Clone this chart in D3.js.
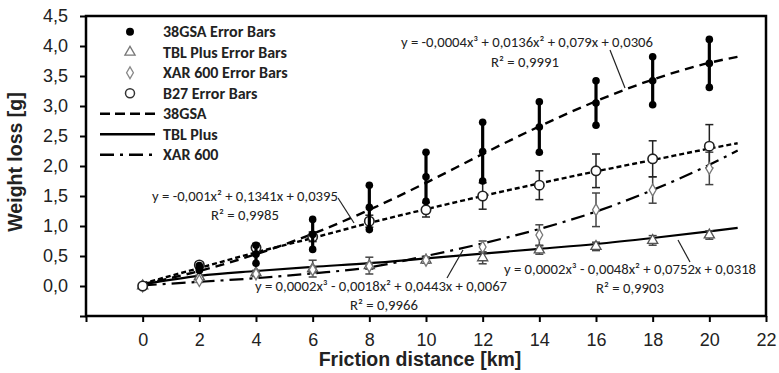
<!DOCTYPE html>
<html>
<head>
<meta charset="utf-8">
<script src="https://cdn.jsdelivr.net/npm/d3@7"></script>
<style>
  body { margin: 0; background: #fff; }
  svg { display: block; }
</style>
</head>
<body>
<script>
const w = 779;
const h = 373;

// measured data (friction distance in km, weight loss in g)
const distance = [0, 2, 4, 6, 8, 10, 12, 14, 16, 18, 20];
const gsaMean = [0, 0.30, 0.53, 0.86, 1.31, 1.82, 2.24, 2.65, 3.05, 3.42, 3.71];
const gsaErr  = [0, 0.04, 0.15, 0.25, 0.37, 0.41, 0.49, 0.42, 0.37, 0.40, 0.40];
const tblMean = [0, 0.15, 0.22, 0.29, 0.34, 0.43, 0.47, 0.60, 0.66, 0.76, 0.85];
const tblErr  = [0, 0.03, 0.04, 0.14, 0.14, 0.05, 0.10, 0.07, 0.07, 0.08, 0.07];
const xarMean = [0, 0.09, 0.20, 0.27, 0.33, 0.43, 0.65, 0.85, 1.27, 1.60, 1.96];
const xarErr  = [0, 0.03, 0.04, 0.05, 0.05, 0.05, 0.10, 0.17, 0.28, 0.22, 0.27];
const b27Mean = [0, 0.35, 0.64, 0.82, 1.08, 1.27, 1.50, 1.68, 1.92, 2.12, 2.33];
const b27Err  = [0, 0.05, 0.07, 0.08, 0.10, 0.12, 0.22, 0.24, 0.28, 0.30, 0.36];

// trend lines
const fitX   = [0, 2, 4, 6, 8, 10, 12, 14, 16, 18, 20, 21];
const gsaFit = [0.03, 0.25, 0.53, 0.87, 1.27, 1.72, 2.20, 2.66, 3.08, 3.44, 3.72, 3.82];
const b27Fit = [0.04, 0.30, 0.56, 0.80, 1.05, 1.28, 1.50, 1.71, 1.91, 2.10, 2.29, 2.38];
const tblFit = [0.03, 0.17, 0.25, 0.32, 0.38, 0.46, 0.54, 0.62, 0.70, 0.80, 0.91, 0.97];
const xarFit = [0.01, 0.07, 0.13, 0.21, 0.31, 0.50, 0.71, 0.95, 1.24, 1.60, 2.02, 2.26];

const xTicks = [-2, 0, 2, 4, 6, 8, 10, 12, 14, 16, 18, 20, 22];
const yTicks = [-0.5, 0, 0.5, 1, 1.5, 2, 2.5, 3, 3.5, 4, 4.5];

const legendMarkers = ["38GSA Error Bars", "TBL Plus Error Bars", "XAR 600 Error Bars", "B27 Error Bars"];
const legendLines = ["38GSA", "TBL Plus", "XAR 600"];

const equations = [
  {l1: "y = -0,0004x³ + 0,0136x² + 0,079x + 0,0306", l2: "R² = 0,9991"},
  {l1: "y = -0,001x² + 0,1341x + 0,0395", l2: "R² = 0,9985"},
  {l1: "y = 0,0002x³ - 0,0018x² + 0,0443x + 0,0067", l2: "R² = 0,9966"},
  {l1: "y = 0,0002x³ - 0,0048x² + 0,0752x + 0,0318", l2: "R² = 0,9903"}
];

const axisFont = "'Liberation Sans', Arial, sans-serif";
const calFont = "Carlito, Calibri, Lato, 'Open Sans', sans-serif";

const x = d3.scaleLinear().domain([-2, 22]).range([86, 766]);
const y = d3.scaleLinear().domain([-0.5, 4.5]).range([316, 16]);

const svg = d3.select("body").append("svg")
  .attr("width", w)
  .attr("height", h);

const fmt = v => d3.format(".1f")(v).replace(".", ",");

// axes
const xAxis = svg.append("g")
  .attr("transform", "translate(0," + y(-0.5) + ")")
  .call(d3.axisBottom(x).tickValues(xTicks).tickSize(6).tickPadding(11)
    .tickFormat(d => d < 0 ? "" : d));
const yAxis = svg.append("g")
  .attr("transform", "translate(" + x(-2) + ",0)")
  .call(d3.axisLeft(y).tickValues(yTicks).tickSize(6).tickPadding(12)
    .tickFormat(d => d < 0 ? "" : fmt(d)));

[xAxis, yAxis].forEach(a => {
  a.select(".domain").remove();
  a.selectAll(".tick line").attr("stroke", "#000").attr("stroke-width", 2);
  a.selectAll("text")
    .attr("fill", "#222")
    .style("font-family", axisFont)
    .style("font-size", "18px");
});

// plot frame
svg.append("rect")
  .attr("x", x(-2)).attr("y", y(4.5))
  .attr("width", x(22) - x(-2)).attr("height", y(-0.5) - y(4.5))
  .attr("fill", "none").attr("stroke", "#000").attr("stroke-width", 2.5);

svg.append("text")
  .attr("x", 420).attr("y", 366)
  .attr("text-anchor", "middle")
  .style("font-family", axisFont).style("font-size", "19.5px").style("font-weight", "bold")
  .attr("fill", "#222")
  .text("Friction distance [km]");

svg.append("text")
  .attr("transform", "translate(22,162) rotate(-90)")
  .attr("text-anchor", "middle")
  .style("font-family", axisFont).style("font-size", "19.5px").style("font-weight", "bold")
  .attr("fill", "#222")
  .text("Weight loss [g]");

// trend lines
const line = d3.line()
  .x(d => x(d[0]))
  .y(d => y(d[1]))
  .curve(d3.curveMonotoneX);

const fits = [
  {v: b27Fit, dash: "5,3", width: 2.4},
  {v: tblFit, dash: null, width: 2.2},
  {v: xarFit, dash: "14,6,3,6", width: 2.2},
  {v: gsaFit, dash: "9,6", width: 2.4}
];
fits.forEach(f => {
  svg.append("path")
    .datum(fitX.map((d, i) => [d, f.v[i]]))
    .attr("d", line)
    .attr("fill", "none")
    .attr("stroke", "#000")
    .attr("stroke-width", f.width)
    .attr("stroke-dasharray", f.dash);
});

// error bars with caps
function errorBars(mean, err, color, capW, sw) {
  const g = svg.append("g");
  distance.forEach((d, i) => {
    if (err[i] <= 0) return;
    const cx = x(d);
    g.append("line")
      .attr("x1", cx).attr("x2", cx)
      .attr("y1", y(mean[i] - err[i])).attr("y2", y(mean[i] + err[i]))
      .attr("stroke", color).attr("stroke-width", sw);
    [mean[i] - err[i], mean[i] + err[i]].forEach(v => {
      g.append("line")
        .attr("x1", cx - capW).attr("x2", cx + capW)
        .attr("y1", y(v)).attr("y2", y(v))
        .attr("stroke", color).attr("stroke-width", sw);
    });
  });
}

errorBars(tblMean, tblErr, "#444", 4, 1.5);
errorBars(xarMean, xarErr, "#444", 4, 1.5);
errorBars(b27Mean, b27Err, "#222", 4, 1.5);

const triangle = d3.symbol().type(d3.symbolTriangle).size(45);
const diamond = d3.symbol().type(d3.symbolDiamond).size(40);

function markers(mean, sym, stroke) {
  svg.append("g").selectAll("path")
    .data(distance)
    .enter()
    .append("path")
    .attr("transform", (d, i) => "translate(" + x(d) + "," + y(mean[i]) + ")")
    .attr("d", sym)
    .attr("fill", "#fff")
    .attr("stroke", stroke)
    .attr("stroke-width", 1.3);
}
markers(tblMean, triangle, "#555");
markers(xarMean, diamond, "#777");

svg.append("g").selectAll("circle")
  .data(distance)
  .enter()
  .append("circle")
  .attr("cx", d => x(d))
  .attr("cy", (d, i) => y(b27Mean[i]))
  .attr("r", 4.7)
  .attr("fill", "#fff")
  .attr("stroke", "#222")
  .attr("stroke-width", 1.6);

// 38GSA thick bars with round ends
const gsaG = svg.append("g");
distance.forEach((d, i) => {
  if (d === 0) return;
  const cx = x(d);
  gsaG.append("line")
    .attr("x1", cx).attr("x2", cx)
    .attr("y1", y(gsaMean[i] - gsaErr[i])).attr("y2", y(gsaMean[i] + gsaErr[i]))
    .attr("stroke", "#000").attr("stroke-width", 3.2);
  [gsaMean[i] - gsaErr[i], gsaMean[i], gsaMean[i] + gsaErr[i]].forEach(v => {
    gsaG.append("circle")
      .attr("cx", cx).attr("cy", y(v)).attr("r", 3.8)
      .attr("fill", "#000");
  });
});

// legend
const legend = svg.append("g");
const rowY = k => 31.7 + 20.5 * k;
legend.append("circle").attr("cx", 130).attr("cy", rowY(0)).attr("r", 4).attr("fill", "#000");
legend.append("path").attr("transform", "translate(130," + rowY(1) + ")").attr("d", triangle)
  .attr("fill", "#fff").attr("stroke", "#777").attr("stroke-width", 1.3);
legend.append("path").attr("transform", "translate(130," + rowY(2) + ")").attr("d", diamond)
  .attr("fill", "#fff").attr("stroke", "#888").attr("stroke-width", 1.3);
legend.append("circle").attr("cx", 130).attr("cy", rowY(3)).attr("r", 4.5)
  .attr("fill", "#fff").attr("stroke", "#333").attr("stroke-width", 1.5);

const legDash = ["10,5", null, "14,6,3,6"];
legendLines.forEach((t, k) => {
  legend.append("line")
    .attr("x1", 100).attr("x2", 155)
    .attr("y1", rowY(4 + k)).attr("y2", rowY(4 + k))
    .attr("stroke", "#000").attr("stroke-width", 2.4)
    .attr("stroke-dasharray", legDash[k]);
});

legendMarkers.concat(legendLines).forEach((t, k) => {
  legend.append("text")
    .attr("x", 163).attr("y", rowY(k))
    .attr("dy", "0.35em")
    .style("font-family", calFont).style("font-size", "16px").style("font-weight", "bold")
    .attr("fill", "#222")
    .text(t);
});

// equations with leader lines
const eqPos = [[527, 47, 525, 67], [245, 201, 245, 220], [381, 291, 384, 310], [630, 274, 630, 293]];
equations.forEach((e, i) => {
  const p = eqPos[i];
  svg.append("text").attr("x", p[0]).attr("y", p[1]).attr("text-anchor", "middle")
    .style("font-family", calFont).style("font-size", "14.7px").attr("fill", "#222").text(e.l1);
  svg.append("text").attr("x", p[2]).attr("y", p[3]).attr("text-anchor", "middle")
    .style("font-family", calFont).style("font-size", "14.7px").attr("fill", "#222").text(e.l2);
});

const leaders = [[610, 50, 625, 88], [338, 198, 354, 223], [447, 278, 463, 250], [690, 262, 678, 240]];
leaders.forEach(l => {
  svg.append("line")
    .attr("x1", l[0]).attr("y1", l[1]).attr("x2", l[2]).attr("y2", l[3])
    .attr("stroke", "#222").attr("stroke-width", 1.2);
});
</script>
</body>
</html>
